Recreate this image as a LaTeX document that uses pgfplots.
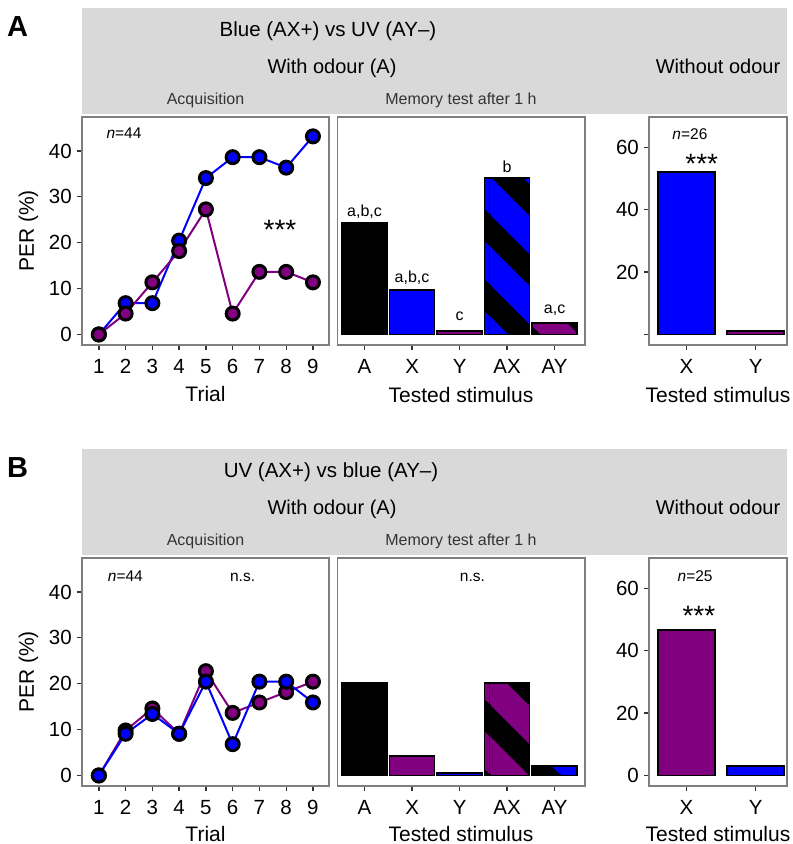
\documentclass[border=0pt]{standalone}
\usepackage{fontspec}
\setmainfont{Liberation Sans}
\usepackage{pgfplots}
\pgfplotsset{compat=1.18}
\usepackage{pgfplotstable}
\usetikzlibrary{patterns}

\definecolor{uvp}{RGB}{128,0,128}
\definecolor{blu}{RGB}{0,0,255}
\definecolor{strip}{RGB}{217,217,217}
\definecolor{frame}{RGB}{127,127,127}
\definecolor{tickc}{RGB}{51,51,51}

\newcommand\fs[1]{\fontsize{#1}{#1}\selectfont}

% wide diagonal bands for the compound (AX / AY) bars
\pgfdeclarepatternformonly{bands}{\pgfpointorigin}{\pgfpoint{70pt}{70pt}}{\pgfpoint{70pt}{70pt}}{%
  \pgfpathmoveto{\pgfpointorigin}
  \pgfpathlineto{\pgfpoint{38pt}{0pt}}
  \pgfpathlineto{\pgfpoint{0pt}{38pt}}
  \pgfpathclose
  \pgfpathmoveto{\pgfpoint{70pt}{0pt}}
  \pgfpathlineto{\pgfpoint{70pt}{38pt}}
  \pgfpathlineto{\pgfpoint{38pt}{70pt}}
  \pgfpathlineto{\pgfpoint{0pt}{70pt}}
  \pgfpathclose
  \pgfusepath{fill}}

\pgfplotsset{
  panel/.style={
    scale only axis, anchor=south west,
    axis line style={frame, line width=1.3pt},
    tick style={tickc, line width=1.3pt},
    major tick length=5pt, tick align=outside, tick pos=left,
    tick label style={font=\fs{20.5}, text=black},
    xticklabel style={yshift=-9pt},
    yticklabel style={xshift=-5pt},
    /pgf/number format/assume math mode=true,
  },
  bar/.style={ybar, bar width=#1, bar shift=0pt},
  pt/.style={only marks, mark=*, mark size=6.5pt,
    mark options={fill=#1, draw=black, line width=3pt}},
}

% acquisition curves, PER (%) per trial
\pgfplotstableread{
t blue uv
1 0     0
2 6.82  4.55
3 6.82  11.36
4 20.45 18.18
5 34.09 27.27
6 38.64 4.55
7 38.64 13.64
8 36.36 13.64
9 43.18 11.36
}\acqA

\pgfplotstableread{
t blue uv
1 0     0
2 9.09  9.8
3 13.4  14.6
4 9.09  9.09
5 20.45 22.73
6 6.82  13.64
7 20.45 15.91
8 20.45 18.18
9 15.91 20.45
}\acqB

\begin{document}
\begin{tikzpicture}[every node/.style={inner sep=0pt}]
\useasboundingbox (0,0) rectangle (793pt,-844pt);

% ---------------- A ----------------
\fill[strip] (81.7pt,-8.3pt) rectangle (787.3pt,-114pt);
\node[anchor=base west, font=\fs{29}\bfseries] at (7pt,-36pt) {A};
\node[anchor=base, font=\fs{20.5}] at (328pt,-36.5pt) {Blue (AX+) vs UV (AY–)};
\node[anchor=base, font=\fs{20}] at (332pt,-73pt) {With odour (A)};
\node[anchor=base, font=\fs{20}] at (718pt,-73pt) {Without odour};
\node[anchor=base, font=\fs{16}, text=tickc] at (205.5pt,-104.5pt) {Acquisition};
\node[anchor=base, font=\fs{16}, text=tickc] at (461pt,-104.5pt) {Memory test after 1 h};
\node[anchor=base, rotate=90, font=\fs{21}] at (34pt,-231pt) {PER (\%)};
\node[anchor=base, font=\fs{21}] at (205.5pt,-401.7pt) {Trial};
\node[anchor=base, font=\fs{21}] at (461pt,-402pt) {Tested stimulus};
\node[anchor=base, font=\fs{21}] at (718pt,-402pt) {Tested stimulus};

\begin{axis}[panel, at={(82pt,-345pt)}, width=247pt, height=228pt,
  xmin=0.37, xmax=9.6, ymin=-2.3, ymax=47.4,
  xtick={1,...,9}, ytick={0,10,20,30,40}, clip=false]
\addplot[blu, line width=2pt] table[x=t, y=blue] {\acqA};
\addplot[uvp, line width=2pt] table[x=t, y=uv] {\acqA};
\addplot[pt=blu] table[x=t, y=blue] {\acqA};
\addplot[pt=uvp] table[x=t, y=uv] {\acqA};
\node[anchor=base, font=\fs{15.5}] at (axis cs:1.94,42.7) {\textit{n}=44};
\node[anchor=base, font=\fs{28}] at (axis cs:7.77,20.6) {***};
\end{axis}

\begin{axis}[panel, at={(337.5pt,-345pt)}, width=247.5pt, height=228pt,
  xmin=0.43, xmax=5.64, ymin=-2.3, ymax=47.4,
  xtick={1,...,5}, xticklabels={A,X,Y,AX,AY}, ytick=\empty]
\addplot[bar=45pt, fill=black, draw=black, line width=1.8pt] coordinates {(1,24.39)};
\addplot[bar=45pt, fill=blu, draw=black, line width=1.8pt] coordinates {(2,9.76)};
\addplot[bar=45pt, fill=uvp, draw=black, line width=1.8pt] coordinates {(3,0.8)};
\addplot[bar=45pt, fill=black, draw=black, line width=1.8pt] coordinates {(4,34.15) (5,2.44)};
\addplot[bar=45pt, draw=none, pattern=bands, pattern color=blu] coordinates {(4,34.15)};
\addplot[bar=45pt, draw=none, pattern=bands, pattern color=uvp] coordinates {(5,2.44)};
\addplot[bar=45pt, fill=none, draw=black, line width=1.8pt] coordinates {(4,34.15) (5,2.44)};
\node[anchor=base, font=\fs{16}] at (axis cs:1,25.7) {a,b,c};
\node[anchor=base, font=\fs{16}] at (axis cs:2,11.27) {a,b,c};
\node[anchor=base, font=\fs{16}] at (axis cs:3,3.0) {c};
\node[anchor=base, font=\fs{16}] at (axis cs:4,35.2) {b};
\node[anchor=base, font=\fs{16}] at (axis cs:5,4.66) {a,c};
\end{axis}

\begin{axis}[panel, at={(649pt,-345pt)}, width=138pt, height=228pt,
  xmin=0.46, xmax=2.45, ymin=-3.4, ymax=69.7,
  xtick={1,2}, xticklabels={X,Y}, ytick={0,20,40,60}, yticklabels={,20,40,60}]
\addplot[bar=57pt, fill=blu, draw=black, line width=1.8pt] coordinates {(1,52)};
\addplot[bar=57pt, fill=uvp, draw=black, line width=1.8pt] coordinates {(2,1.2)};
\node[anchor=base, font=\fs{15.5}] at (axis cs:1.05,62.55) {\textit{n}=26};
\node[anchor=base, font=\fs{28}] at (axis cs:1.22,51.65) {***};
\end{axis}

% ---------------- B ----------------
\fill[strip] (81.7pt,-449.3pt) rectangle (787.3pt,-555pt);
\node[anchor=base west, font=\fs{29}\bfseries] at (7pt,-477pt) {B};
\node[anchor=base, font=\fs{20.5}] at (331pt,-477.5pt) {UV (AX+) vs blue (AY–)};
\node[anchor=base, font=\fs{20}] at (332pt,-514pt) {With odour (A)};
\node[anchor=base, font=\fs{20}] at (718pt,-514pt) {Without odour};
\node[anchor=base, font=\fs{16}, text=tickc] at (205.5pt,-545.5pt) {Acquisition};
\node[anchor=base, font=\fs{16}, text=tickc] at (461pt,-545.5pt) {Memory test after 1 h};
\node[anchor=base, rotate=90, font=\fs{21}] at (34pt,-672pt) {PER (\%)};
\node[anchor=base, font=\fs{21}] at (205.5pt,-841pt) {Trial};
\node[anchor=base, font=\fs{21}] at (461pt,-841pt) {Tested stimulus};
\node[anchor=base, font=\fs{21}] at (718pt,-841pt) {Tested stimulus};

\begin{axis}[panel, at={(82pt,-786pt)}, width=247pt, height=228pt,
  xmin=0.37, xmax=9.6, ymin=-2.3, ymax=47.4,
  xtick={1,...,9}, ytick={0,10,20,30,40}, clip=false]
\addplot[uvp, line width=2pt] table[x=t, y=uv] {\acqB};
\addplot[blu, line width=2pt] table[x=t, y=blue] {\acqB};
\addplot[pt=uvp] table[x=t, y=uv] {\acqB};
\addplot[pt=blu] table[x=t, y=blue] {\acqB};
\node[anchor=base, font=\fs{15.5}] at (axis cs:1.99,42.2) {\textit{n}=44};
\node[anchor=base, font=\fs{15.5}] at (axis cs:6.37,42.2) {n.s.};
\end{axis}

\begin{axis}[panel, at={(337.5pt,-786pt)}, width=247.5pt, height=228pt,
  xmin=0.43, xmax=5.64, ymin=-2.3, ymax=47.4,
  xtick={1,...,5}, xticklabels={A,X,Y,AX,AY}, ytick=\empty]
\addplot[bar=45pt, fill=black, draw=black, line width=1.8pt] coordinates {(1,20.2)};
\addplot[bar=45pt, fill=uvp, draw=black, line width=1.8pt] coordinates {(2,4.2)};
\addplot[bar=45pt, fill=blu, draw=black, line width=1.8pt] coordinates {(3,0.5)};
\addplot[bar=45pt, fill=black, draw=black, line width=1.8pt] coordinates {(4,20.2) (5,2.0)};
\addplot[bar=45pt, draw=none, pattern=bands, pattern color=uvp] coordinates {(4,20.2)};
\addplot[bar=45pt, draw=none, pattern=bands, pattern color=blu] coordinates {(5,2.0)};
\addplot[bar=45pt, fill=none, draw=black, line width=1.8pt] coordinates {(4,20.2) (5,2.0)};
\node[anchor=base, font=\fs{15.5}] at (axis cs:3.27,42.2) {n.s.};
\end{axis}

\begin{axis}[panel, at={(649pt,-786pt)}, width=138pt, height=228pt,
  xmin=0.46, xmax=2.45, ymin=-3.4, ymax=69.7,
  xtick={1,2}, xticklabels={X,Y}, ytick={0,20,40,60}]
\addplot[bar=57pt, fill=uvp, draw=black, line width=1.8pt] coordinates {(1,46.6)};
\addplot[bar=57pt, fill=blu, draw=black, line width=1.8pt] coordinates {(2,3.1)};
\node[anchor=base, font=\fs{15.5}] at (axis cs:1.125,62.1) {\textit{n}=25};
\node[anchor=base, font=\fs{28}] at (axis cs:1.18,48.2) {***};
\end{axis}
\end{tikzpicture}
\end{document}
